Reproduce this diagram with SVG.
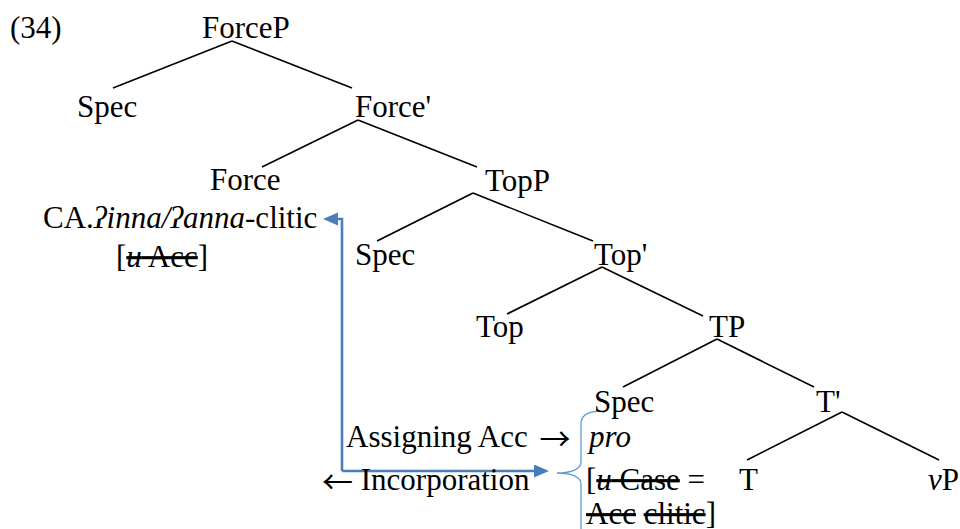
<svg xmlns="http://www.w3.org/2000/svg" width="960" height="529" viewBox="0 0 960 529">
<style>
text { font-size: 31px; fill: #000; }
.it { font-style: italic; }
.st { text-decoration: line-through; }
.arr { font-family: "Noto Sans CJK JP", "DejaVu Sans", sans-serif; }
.edge { stroke: #000; stroke-width: 1.6; fill: none; }
.blue { stroke: #4A7EBB; stroke-width: 2.6; fill: none; }
.brace { stroke: #5B9BD5; stroke-width: 1.3; fill: none; }
</style>
<defs>
<marker id="ah" markerUnits="userSpaceOnUse" markerWidth="15" markerHeight="14" refX="0" refY="6.5" orient="auto">
<path d="M0,0 L15,6.5 L0,13 z" fill="#4A7EBB"/>
</marker>
</defs>
<rect width="960" height="529" fill="#fff"/>
<text id="label34" x="10" y="38" font-family="Liberation Serif, serif">(34)</text>
<g id="connectors">
<line class="edge" x1="232" y1="41" x2="113" y2="88"/>
<line class="edge" x1="232" y1="41" x2="352" y2="88"/>
<line class="edge" x1="358" y1="120" x2="262" y2="167"/>
<line class="edge" x1="358" y1="120" x2="477" y2="167"/>
<line class="edge" x1="473" y1="193" x2="377" y2="241"/>
<line class="edge" x1="473" y1="193" x2="593" y2="241"/>
<line class="edge" x1="602" y1="267" x2="507" y2="314"/>
<line class="edge" x1="602" y1="267" x2="703" y2="316"/>
<line class="edge" x1="717" y1="339" x2="623" y2="387"/>
<line class="edge" x1="717" y1="339" x2="814" y2="387"/>
<line class="edge" x1="842" y1="412" x2="747" y2="460"/>
<line class="edge" x1="842" y1="412" x2="939" y2="460"/>
<path class="blue" d="M342,471 V219 H338" marker-end="url(#ah)"/>
<path class="blue" d="M342,471 H534" marker-end="url(#ah)"/>
<path class="brace" d="M605,412 C592,410 581,413 581,424 V462 C581,469 572,473 557,473 C572,473 581,477 581,484 V535"/>
</g>
<g id="forceP"><text x="202" y="38" font-family="Liberation Serif, serif">ForceP</text></g>
<g id="spec1"><text x="77" y="117" font-family="Liberation Serif, serif">Spec</text></g>
<g id="forceBar"><text x="355" y="117" font-family="Liberation Serif, serif">Force'</text></g>
<g id="force">
<text x="210" y="190" font-family="Liberation Serif, serif">Force</text>
<text x="43" y="228" font-family="Liberation Serif, serif">CA.<tspan class="it">ʔinna/ʔanna</tspan>-clitic</text>
<text x="116" y="267" font-family="Liberation Serif, serif">[<tspan class="st"><tspan class="it">u</tspan> Acc</tspan>]</text>
</g>
<g id="topP"><text x="485" y="191" font-family="Liberation Serif, serif">TopP</text></g>
<g id="spec2"><text x="355" y="265" font-family="Liberation Serif, serif">Spec</text></g>
<g id="topBar"><text x="594" y="265" font-family="Liberation Serif, serif">Top'</text></g>
<g id="top"><text x="476" y="337" font-family="Liberation Serif, serif">Top</text></g>
<g id="tP"><text x="709" y="337" font-family="Liberation Serif, serif">TP</text></g>
<g id="spec3">
<text x="594" y="412" font-family="Liberation Serif, serif">Spec</text>
<text x="589" y="447" class="it" font-family="Liberation Serif, serif">pro</text>
<text x="586" y="490" font-family="Liberation Serif, serif">[<tspan class="st"><tspan class="it">u</tspan> Case</tspan> =</text>
<text x="586" y="524" font-family="Liberation Serif, serif"><tspan class="st">Acc</tspan> <tspan class="st">clitic</tspan>]</text>
</g>
<g id="tBar"><text x="816" y="412" font-family="Liberation Serif, serif">T'</text></g>
<g id="t"><text x="739" y="490" font-family="Liberation Serif, serif">T</text></g>
<g id="vP"><text x="928" y="490" font-family="Liberation Serif, serif"><tspan class="it">v</tspan>P</text></g>
<g id="assigning"><text x="346" y="447" font-family="Liberation Serif, serif">Assigning Acc <tspan class="arr" dx="4" dy="3">→</tspan></text></g>
<g id="incorporation"><text x="322" y="490" font-family="Liberation Serif, serif"><tspan class="arr" dy="3">←</tspan><tspan dy="-3"> Incorporation</tspan></text></g>
</svg>
